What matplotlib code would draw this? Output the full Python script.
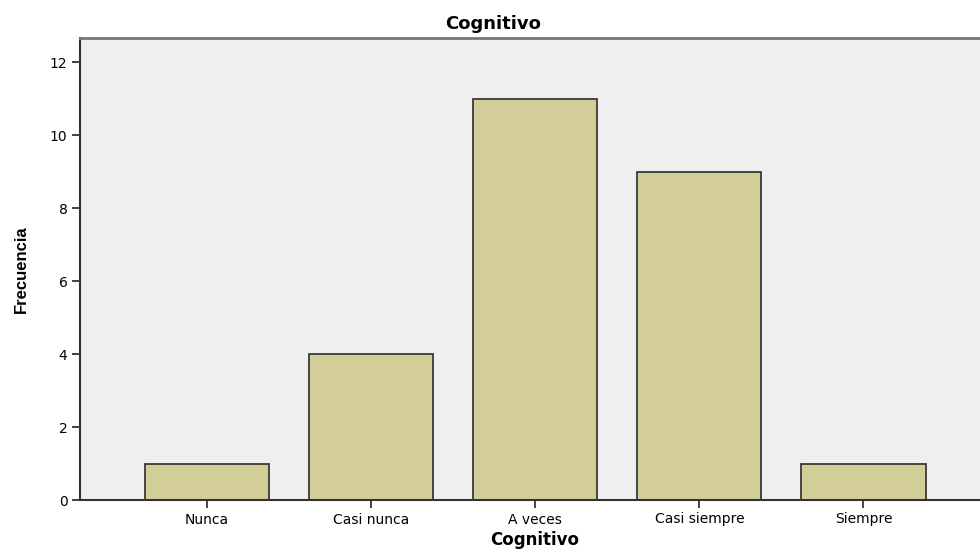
import numpy as np
import matplotlib
matplotlib.use("Agg")
import matplotlib.pyplot as plt

# data
categories = ["Nunca", "Casi nunca", "A veces", "Casi siempre", "Siempre"]
frecuencia = [1, 4, 11, 9, 1]
y_ticks = [0, 2, 4, 6, 8, 10, 12]

plt.rcParams['font.family'] = ['DejaVu Sans']

fig = plt.figure(figsize=(9.8, 5.5), dpi=100)
ax = fig.add_axes([80 / 980, 50 / 550, 900 / 980, 462 / 550])
ax.set_facecolor("#efefef")

x = np.arange(len(categories))
ax.bar(x, frecuencia, width=0.756, color="#d3ce98", edgecolor="#3a3a3a",
       linewidth=1.3, zorder=2)

ax.set_xlim(-0.774, 4.71)
ax.set_ylim(0, 12.66)
ax.set_xticks(x)
ax.set_xticklabels(categories, fontsize=10)
ax.set_yticks(y_ticks)
ax.set_yticklabels([str(v) for v in y_ticks], fontsize=10)
ax.tick_params(axis="both", direction="out", length=6, width=1.3,
               color="#333333", pad=3)

for side in ["left", "bottom"]:
    ax.spines[side].set_color("#333333")
    ax.spines[side].set_linewidth(1.5)
ax.spines["top"].set_color("#777777")
ax.spines["top"].set_linewidth(2)
ax.spines["right"].set_visible(False)

# title sits centred on the figure, not the axes
fig.text(493 / 980, 1 - 24 / 550, "Cognitivo", fontsize=13, fontweight="bold",
         ha="center", va="center")
ax.set_xlabel("Cognitivo", fontsize=12, fontweight="bold")
ax.xaxis.set_label_coords((535 - 80) / 900, -31 / 462)
ax.set_ylabel("Frecuencia", fontsize=12, fontweight="bold",
              family=['Liberation Sans', 'DejaVu Sans'])
ax.yaxis.set_label_coords((29 - 80) / 900, 0.5)

fig.savefig("out.png", dpi=100)
